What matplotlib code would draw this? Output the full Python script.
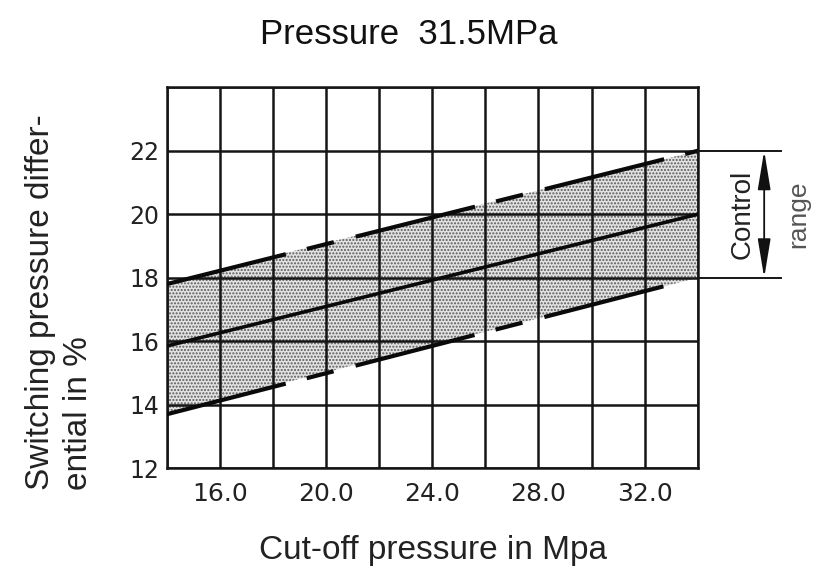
import matplotlib
matplotlib.use("Agg")
import matplotlib.pyplot as plt
from matplotlib.ticker import MultipleLocator, FixedLocator, FixedFormatter

plt.rcParams["hatch.color"] = "#5a5a5a"
plt.rcParams["hatch.linewidth"] = 1.0
plt.rcParams["lines.scale_dashes"] = False

# ---- data ----
title = "Pressure  31.5MPa"
x_label = "Cut-off pressure in Mpa"
y_label = "Switching pressure differ-\nential in %"
x_ticks = [16.0, 20.0, 24.0, 28.0, 32.0]
x_tick_labels = ["16.0", "20.0", "24.0", "28.0", "32.0"]
y_ticks = [12, 14, 16, 18, 20, 22]
y_tick_labels = ["12", "14", "16", "18", "20", "22"]

upper_x = [14.0, 34.0]
upper_y = [17.8, 22.0]
mean_x = [14.0, 34.0]
mean_y = [15.85, 20.0]
lower_x = [14.0, 32.8]
lower_y = [13.7, 17.75]
band_x = [14.0, 34.0]
band_top = [17.85, 22.0]
band_bottom = [13.75, 18.0]
control_limits = [18.0, 22.0]
control_label = "Control"
range_label = "range"

# ---- figure ----
fig = plt.figure(figsize=(8.19, 5.76), dpi=100)
ax = fig.add_axes([0.2035, 0.187, 0.6485, 0.6615])
ax.set_xlim(14, 34)
ax.set_ylim(12, 24)

ax.fill_between(band_x, band_bottom, band_top, facecolor="#e2e2e2",
                hatch=".....", edgecolor="#5a5a5a", linewidth=0, zorder=0.2)

ax.xaxis.set_major_locator(FixedLocator(x_ticks))
ax.xaxis.set_major_formatter(FixedFormatter(x_tick_labels))
ax.xaxis.set_minor_locator(MultipleLocator(2))
ax.yaxis.set_major_locator(FixedLocator(y_ticks))
ax.yaxis.set_major_formatter(FixedFormatter(y_tick_labels))
ax.yaxis.set_minor_locator(MultipleLocator(2))
ax.set_axisbelow(True)
ax.grid(which="both", color="#151515", linewidth=1.8)
ax.tick_params(which="both", length=0)
ax.tick_params(axis="x", pad=10, labelsize=18, labelcolor="#222222")
ax.tick_params(axis="y", pad=5, labelsize=17, labelcolor="#222222")
for s in ax.spines.values():
    s.set_color("#151515")
    s.set_linewidth(1.8)

dash = (0, (88.5, 15.6, 20.0, 16.3))
ax.plot(upper_x, upper_y, color="#0a0a0a", lw=3.0, ls=dash, zorder=3)
ax.plot(mean_x, mean_y, color="#0a0a0a", lw=2.6, zorder=3)
ax.plot(lower_x, lower_y, color="#0a0a0a", lw=3.0, ls=dash, zorder=3)

# control range annotation
for yv in control_limits:
    ax.plot([34.0, 37.13], [yv, yv], color="#151515", lw=1.4, clip_on=False, zorder=3)
ax.annotate("", xy=(36.5, control_limits[0]), xytext=(36.5, control_limits[1]),
            arrowprops=dict(arrowstyle="<|-|>,head_length=1.7,head_width=0.28",
                            mutation_scale=14, color="#111111", lw=1.3,
                            shrinkA=0, shrinkB=0),
            annotation_clip=False)
mid = sum(control_limits) / 2
ax.text(35.67, mid, control_label, rotation=90, ha="center", va="center",
        fontsize=20, family="Liberation Sans", color="#222222", clip_on=False)
ax.text(37.8, mid, range_label, rotation=90, ha="center", va="center",
        fontsize=19, family="Liberation Sans", color="#555555", clip_on=False)

fig.text(0.4994, 1 - 34 / 576, title, ha="center", va="center",
         fontsize=25, family="Liberation Sans", color="#111111")
fig.text(433 / 819, 1 - 550 / 576, x_label, ha="center", va="center",
         fontsize=24, family="Liberation Sans", color="#222222")
fig.text(59.5 / 819, 1 - 490 / 576, y_label, rotation=90, ha="center", va="bottom",
         multialignment="left", linespacing=1.3,
         fontsize=24, family="Liberation Sans", color="#222222")

fig.savefig("out.png", dpi=100, facecolor="white")
